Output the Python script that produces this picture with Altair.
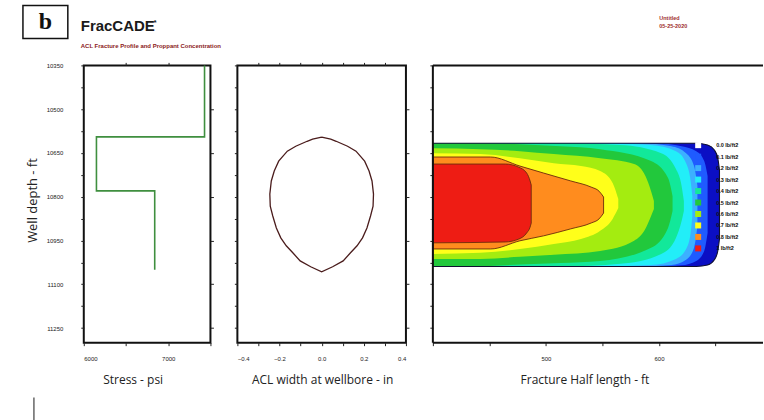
import altair as alt
import pandas as pd

# ---------------- data ----------------
# Panel 1: stress profile (psi vs depth ft)
stress_psi = [7430, 7430, 6150, 6150, 6840, 6840]
stress_depth = [10350, 10595, 10595, 10780, 10780, 11050]

# Panel 2: ACL width at wellbore (half width, in) vs depth
acl_depth = [10596, 10603, 10610, 10627, 10644, 10678, 10712, 10746, 10791,
             10832, 10866, 10907, 10941, 10968, 10992, 11020, 11040, 11057]
acl_half_width = [0.0, 0.043, 0.069, 0.123, 0.163, 0.204, 0.225, 0.239, 0.246,
                  0.244, 0.232, 0.215, 0.194, 0.168, 0.137, 0.102, 0.052, 0.0]

# Panel 3: proppant concentration contour regions (half length ft, top/bottom depth ft)
edge_x = [400, 633, 643, 649, 652, 653.5]
edge_top = [10617, 10617, 10623, 10640, 10668, 10710]
edge_bot = [11039, 11039, 11034, 11016, 10986, 10945]

c01_x = [400, 597, 620, 633, 640, 643]
c01_top = [10617, 10617, 10627, 10644, 10678, 10729]
c01_bot = [11039, 11039, 11035, 11020, 10986, 10924]

c02_x = [400, 584, 611, 624, 631, 634]
c02_top = [10617, 10617, 10627, 10651, 10695, 10763]
c02_bot = [11039, 11039, 11034, 11016, 10975, 10900]

c03_x = [400, 548, 593, 615, 624, 628, 629.5]
c03_top = [10617, 10617, 10623, 10644, 10685, 10746, 10798]
c03_bot = [11039, 11039, 11034, 11013, 10979, 10924, 10866]

c04_x = [400, 513, 566, 602, 615, 620, 622]
c04_top = [10617, 10617, 10623, 10651, 10705, 10763, 10815]
c04_bot = [11039, 11039, 11030, 10996, 10941, 10883, 10849]

c05_x = [400, 433, 477, 513, 548, 593, 608, 612]
c05_top = [10617, 10617, 10620, 10627, 10637, 10678, 10736, 10798]
c05_bot = [11039, 11039, 11032, 11027, 11020, 10975, 10907, 10849]

c06_x = [400, 442, 477, 507, 548, 578, 588, 593, 595.5]
c06_top = [10634, 10637, 10644, 10654, 10668, 10688, 10729, 10781, 10815]
c06_bot = [11013, 11013, 11006, 10999, 10986, 10951, 10910, 10866, 10842]

c07_x = [400, 442, 477, 507, 531, 548, 559, 564]
c07_top = [10651, 10654, 10668, 10685, 10695, 10712, 10753, 10808]
c07_bot = [10996, 10992, 10979, 10962, 10945, 10917, 10876, 10839]

c08_x = [400, 451, 477, 498, 522, 540, 547, 551]
c08_top = [10664, 10664, 10695, 10719, 10746, 10767, 10781, 10801]
c08_bot = [10979, 10979, 10951, 10934, 10910, 10890, 10876, 10856]

c10_x = [400, 464, 476, 483, 486, 487]
c10_top = [10688, 10688, 10699, 10719, 10746, 10760]
c10_bot = [10958, 10955, 10945, 10924, 10904, 10890]

legend_labels = ["0.0 lb/ft2", "0.1 lb/ft2", "0.2 lb/ft2", "0.3 lb/ft2", "0.4 lb/ft2",
                 "0.5 lb/ft2", "0.6 lb/ft2", "0.7 lb/ft2", "0.8 lb/ft2", "1 lb/ft2"]
legend_colors = ["#ffffff", "#1f5bff", "#3cb0ff", "#22eef8", "#12e89a",
                 "#22c83c", "#a4ec10", "#ffff1a", "#ff8c1e", "#ee1c14"]
edge_name = "edge"
edge_color = "#0b0fc4"

# axis tick values / labels
depth_ticks = [10350, 10425, 10500, 10575, 10650, 10725, 10800, 10875, 10950,
               11025, 11100, 11175, 11250]
depth_label_ticks = [10500, 10650, 10800, 10950, 11100, 11250]
stress_ticks = [6000, 6500, 7000, 7500]
stress_top_ticks = [6500, 7000]
width_ticks = [-0.4, -0.3, -0.2, -0.1, 0.0, 0.1, 0.2, 0.3, 0.4]
length_ticks = [400, 450, 500, 550, 600, 650]

# header texts
panel_letter = "b"
main_title = "FracCADE"
sub_title = "ACL Fracture Profile and Proppant Concentration"
corner_lines = ["Untitled", "05-25-2020"]

# ---------------- build tables ----------------
stress_df = pd.DataFrame({"psi": stress_psi, "depth": stress_depth,
                          "seq": list(range(len(stress_psi)))})

n = len(acl_depth)
acl_df = pd.DataFrame({
    "w": acl_half_width + [-v for v in acl_half_width[::-1]],
    "depth": acl_depth + acl_depth[::-1],
    "seq": list(range(2 * n)),
})

regions = [
    (edge_name, edge_x, edge_top, edge_bot),
    ("0.1 lb/ft2", c01_x, c01_top, c01_bot),
    ("0.2 lb/ft2", c02_x, c02_top, c02_bot),
    ("0.3 lb/ft2", c03_x, c03_top, c03_bot),
    ("0.4 lb/ft2", c04_x, c04_top, c04_bot),
    ("0.5 lb/ft2", c05_x, c05_top, c05_bot),
    ("0.6 lb/ft2", c06_x, c06_top, c06_bot),
    ("0.7 lb/ft2", c07_x, c07_top, c07_bot),
    ("0.8 lb/ft2", c08_x, c08_top, c08_bot),
    ("1 lb/ft2", c10_x, c10_top, c10_bot),
]
rows = []
for name, xs, tops, bots in regions:
    for xv, tv, bv in zip(xs, tops, bots):
        rows.append({"region": name, "x": xv, "top": tv, "bot": bv})
cont_df = pd.DataFrame(rows)

one = pd.DataFrame({"k": [0]})

# ---------------- scales / axes ----------------
PH = 278
W1, W2, W3 = 127, 169, 331
depth_scale = alt.Scale(domain=[10350, 11300], reverse=True, nice=False, zero=False)
stress_scale = alt.Scale(domain=[6000, 7500], nice=False, zero=False)
width_scale = alt.Scale(domain=[-0.4, 0.4], nice=False, zero=False)


def y_axis(labels, title=None):
    if labels:
        return alt.Axis(values=depth_ticks, format="d",
                        labelExpr="datum.value % 150 == 0 ? datum.label : ''",
                        labelPadding=18, title=title, titleX=-51, titleY=135,
                        titleAngle=-90, titleBaseline="middle", titleAlign="center",
                        titleFontSize=13)
    return alt.Axis(values=depth_ticks, labels=False, title=None)


def x_axis(values, expr, title, tx, fmt=None):
    kw = dict(values=values, labelExpr=expr, title=title, titleX=tx, titleY=37,
              titleBaseline="middle", titleAlign="center", labelPadding=10)
    if fmt:
        kw["format"] = fmt
    return alt.Axis(**kw)


def mirror_axes(df, xfield, xscale, xvals):
    """Invisible layer that only carries the top / right tick marks."""
    return alt.Chart(df).mark_point(opacity=0).encode(
        x=alt.X(xfield, scale=xscale,
                axis=alt.Axis(orient="top", values=xvals, labels=False, title=None)),
        y=alt.Y("depth:Q", scale=depth_scale,
                axis=alt.Axis(orient="right", values=depth_label_ticks, labels=False,
                              title=None)),
    )


# ---------------- panel 1 ----------------
stress_line = alt.Chart(stress_df).mark_line(color="#3f8f3f", strokeWidth=1.6).encode(
    x=alt.X("psi:Q", scale=stress_scale,
            axis=x_axis(stress_ticks, "datum.value % 1000 == 0 ? datum.label : ''",
                        "Stress - psi", 49, "d")),
    y=alt.Y("depth:Q", scale=depth_scale, axis=y_axis(True, "Well depth - ft")),
    order="seq:Q",
)

box = alt.Chart(one).mark_rect(fill="white", stroke="#111", strokeWidth=1.5).encode(
    x=alt.value(-61), x2=alt.value(-16), y=alt.value(-60), y2=alt.value(-27))
letter = alt.Chart(one).mark_text(text=panel_letter, font="Liberation Serif", fontSize=24,
                                  fontWeight="bold", color="#111", align="center",
                                  baseline="middle").encode(x=alt.value(-38.5), y=alt.value(-43))
t_main = alt.Chart(one).mark_text(text=main_title, font="Liberation Sans", fontSize=15,
                                  fontWeight="bold", color="#1a1a1a", align="left",
                                  baseline="alphabetic").encode(x=alt.value(-3), y=alt.value(-34))
t_star = alt.Chart(one).mark_text(text="*", font="Liberation Sans", fontSize=8,
                                  fontWeight="bold", color="#1a1a1a", align="left",
                                  baseline="alphabetic").encode(x=alt.value(70), y=alt.value(-40))
t_sub = alt.Chart(one).mark_text(text=sub_title, font="Liberation Sans", fontSize=6,
                                 fontWeight="bold", color="#8b1a1a", align="left",
                                 baseline="alphabetic").encode(x=alt.value(-3), y=alt.value(-17))
t_c1 = alt.Chart(one).mark_text(text=corner_lines[0], font="Liberation Sans", fontSize=5.5,
                                fontWeight="bold", color="#a03030", align="left",
                                baseline="alphabetic").encode(x=alt.value(577), y=alt.value(-46))
t_c2 = alt.Chart(one).mark_text(text=corner_lines[1], font="Liberation Sans", fontSize=5.5,
                                fontWeight="bold", color="#a03030", align="left",
                                baseline="alphabetic").encode(x=alt.value(577), y=alt.value(-37))
bar = alt.Chart(one).mark_rule(color="#666", strokeWidth=1.5).encode(
    x=alt.value(-50), y=alt.value(333), y2=alt.value(356))

p1 = alt.layer(box, letter, t_main, t_star, t_sub, t_c1, t_c2, bar, stress_line,
               mirror_axes(stress_df, "psi:Q", stress_scale, stress_top_ticks)
               ).resolve_axis(x="independent", y="independent").properties(
    width=W1, height=PH)

# ---------------- panel 2 ----------------
acl_line = alt.Chart(acl_df).mark_line(color="#4a1c1c", strokeWidth=1.3).encode(
    x=alt.X("w:Q", scale=width_scale,
            axis=x_axis(width_ticks, "abs(round(datum.value*10)) % 2 == 0 ? datum.label : ''",
                        "ACL width at wellbore - in", 85)),
    y=alt.Y("depth:Q", scale=depth_scale, axis=y_axis(False)),
    order="seq:Q",
)
p2 = alt.layer(acl_line, mirror_axes(acl_df, "w:Q", width_scale, width_ticks[1:-1])
               ).resolve_axis(x="independent", y="independent").properties(
    width=W2, height=PH)

# ---------------- panel 3 ----------------
x3 = alt.X("x:Q", scale=alt.Scale(domain=[400, 692], nice=False, zero=False),
           axis=x_axis(length_ticks, "datum.value == 500 || datum.value == 600 ? datum.label : ''",
                       "Fracture Half length - ft", 152, "d"))
y3 = alt.Y("top:Q", scale=depth_scale, axis=y_axis(False), stack=None)
color3 = alt.Color("region:N",
                   scale=alt.Scale(domain=legend_labels + [edge_name],
                                   range=legend_colors + [edge_color]),
                   legend=alt.Legend(values=legend_labels, orient="none", legendX=613,
                                     legendY=77, title=None, symbolType="square",
                                     symbolSize=36, symbolStrokeWidth=0, labelFontSize=5.5,
                                     labelFont="Liberation Sans", labelColor="#111",
                                     labelFontWeight="bold",
                                     labelOffset=15, rowPadding=4.5, padding=0))

layers3 = []
for name, xs, tops, bots in regions:
    if name in ("0.8 lb/ft2", "1 lb/ft2"):
        mk = dict(stroke="#6b2a0a", strokeWidth=0.9)
    else:
        mk = dict(strokeWidth=0)
    layers3.append(
        alt.Chart(cont_df).transform_filter(alt.datum.region == name)
        .mark_area(orient="vertical", interpolate="monotone", **mk)
        .encode(x=x3, y=y3, y2="bot:Q", color=color3)
    )

# outline of the whole fracture drawn on top
outline = (
    alt.Chart(cont_df).transform_filter(alt.datum.region == edge_name)
    .mark_area(orient="vertical", interpolate="monotone", fillOpacity=0,
               stroke="#101030", strokeWidth=1.1)
    .encode(x=x3, y=y3, y2="bot:Q")
)

frame_left = alt.Chart(one).mark_rule(color="#111", strokeWidth=2).encode(
    x=alt.value(0), y=alt.value(0), y2=alt.value(PH))
frame_top = alt.Chart(one).mark_rule(color="#111", strokeWidth=2).encode(
    x=alt.value(0), x2=alt.value(W3), y=alt.value(0))
frame_bot = alt.Chart(one).mark_rule(color="#111", strokeWidth=2).encode(
    x=alt.value(0), x2=alt.value(W3), y=alt.value(PH))

p3 = alt.layer(*layers3, outline, frame_left, frame_top, frame_bot).properties(
    width=W3, height=PH, view=alt.ViewBackground(stroke=None))

chart = alt.hconcat(p1, p2, p3, spacing=27, bounds="flush").properties(
    padding={"left": 21, "top": 3, "right": 0, "bottom": 0},
    background="white",
).configure_axis(
    labelFont="Liberation Sans", labelFontSize=6, labelColor="#222",
    tickColor="#222", tickSize=3, tickWidth=1, domain=False, grid=False,
    titleFont="Open Sans", titleFontSize=12, titleColor="#222", titleFontWeight="normal",
).configure_view(stroke="#111", strokeWidth=2)

chart.save("out.html", embed_options={"renderer": "svg", "actions": False})
